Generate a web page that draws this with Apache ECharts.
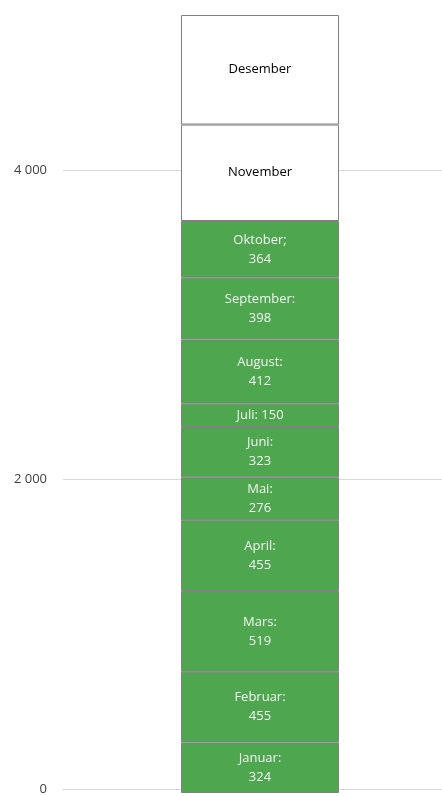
<!DOCTYPE html>
<html>
<head>
<meta charset="utf-8">
<script src="https://cdn.jsdelivr.net/npm/echarts@6/dist/echarts.min.js"></script>
<style>
  html, body { margin: 0; padding: 0; background: #ffffff; }
  #chart { width: 442px; height: 796px; }
</style>
</head>
<body>
<div id="chart"></div>
<script>
// ---- data ----
const categories = [''];
const months = ['Januar', 'Februar', 'Mars', 'April', 'Mai', 'Juni', 'Juli', 'August', 'September', 'Oktober', 'November', 'Desember'];
const values = [324, 455, 519, 455, 276, 323, 150, 412, 398, 364, 620, 704];
const separators = [':\n', ':\n', ':\n', ':\n', ':\n', ':\n', ': ', ':\n', ':\n', ';\n', '', ''];
const showValue = [true, true, true, true, true, true, true, true, true, true, false, false];
const yMin = 0;
const yMax = 5000;
const yInterval = 2000;

// ---- styles ----
const GREEN = '#4ea64e';
const FONT = '"Open Sans", sans-serif';
const GRID_TOP = 15;
const GRID_BOTTOM = 3;

const series = months.map((m, i) => ({
  name: m,
  type: 'bar',
  stack: 'total',
  xAxisIndex: 1,
  yAxisIndex: 1,
  barWidth: 158,
  data: [values[i]],
  itemStyle: {
    color: showValue[i] ? GREEN : '#ffffff',
    borderColor: '#808080',
    borderWidth: 1
  },
  label: {
    show: true,
    position: 'inside',
    fontFamily: FONT,
    fontSize: 13,
    lineHeight: 19,
    color: showValue[i] ? '#f4f4f4' : '#000000',
    formatter: (p) => showValue[i] ? (p.seriesName + separators[i] + p.value) : p.seriesName
  },
  emphasis: { disabled: true }
}));

const chart = echarts.init(document.getElementById('chart'), null, { renderer: 'canvas' });
chart.setOption({
  animation: false,
  backgroundColor: '#ffffff',
  grid: [
    { left: 63, right: 0, top: GRID_TOP, bottom: GRID_BOTTOM, containLabel: false },
    { left: 78, right: 0, top: GRID_TOP, bottom: GRID_BOTTOM, containLabel: false }
  ],
  xAxis: [
    {
      gridIndex: 0,
      type: 'category',
      data: categories,
      axisLine: { show: true, lineStyle: { color: '#d9d9d9', width: 1 } },
      axisTick: { show: false },
      axisLabel: { show: false }
    },
    {
      gridIndex: 1,
      type: 'category',
      data: categories,
      show: false
    }
  ],
  yAxis: [
    {
      gridIndex: 0,
      type: 'value',
      min: yMin,
      max: yMax,
      interval: yInterval,
      axisLine: { show: false },
      axisTick: { show: false },
      splitLine: { show: true, showMaxLine: false, lineStyle: { color: '#d9d9d9', width: 1 } },
      axisLabel: {
        margin: 16,
        showMaxLabel: false,
        padding: [4, 0, 0, 0],
        fontFamily: FONT,
        fontSize: 13,
        color: '#404040',
        formatter: (v) => (v % yInterval === 0) ? String(v).replace(/\B(?=(\d{3})+(?!\d))/g, ' ') : ''
      }
    },
    {
      gridIndex: 1,
      type: 'value',
      min: yMin,
      max: yMax,
      interval: yInterval,
      show: false,
      splitLine: { show: false }
    }
  ],
  series: series
});
</script>
</body>
</html>
